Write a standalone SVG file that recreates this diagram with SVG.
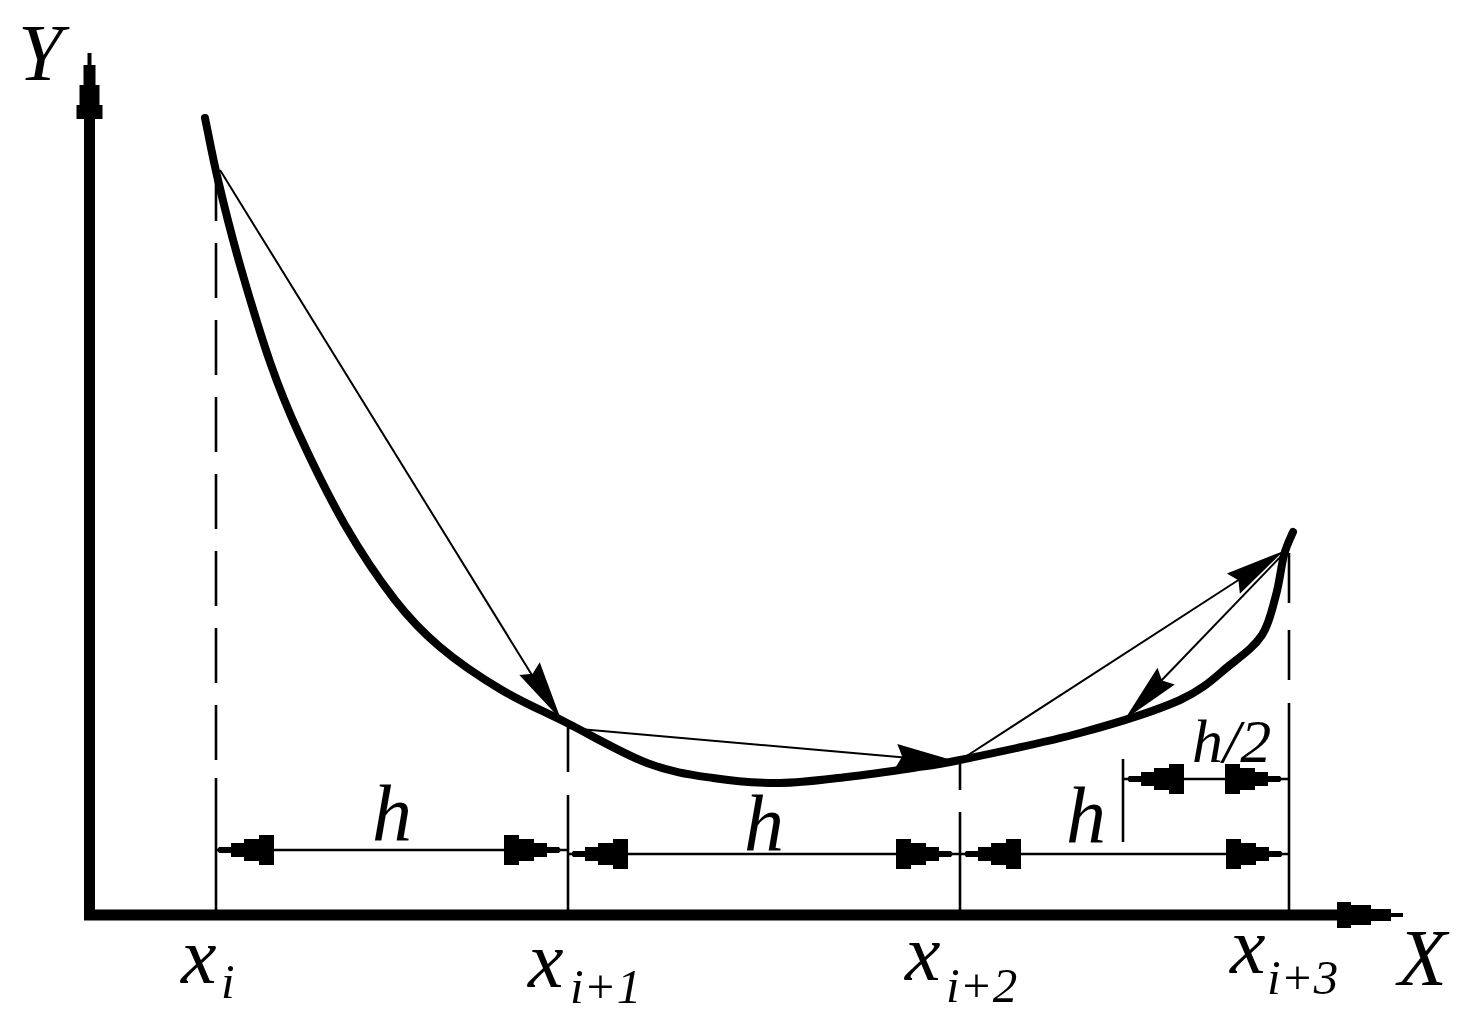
<svg xmlns="http://www.w3.org/2000/svg" xmlns:xlink="http://www.w3.org/1999/xlink" width="1479" height="1024" viewBox="0 0 1479 1024">
<style>
.lbl{font-family:"Liberation Serif","Times New Roman",serif;font-style:italic;fill:#000}
.big{font-size:80px}
.sub{font-size:49px}
.dash{stroke:#000;stroke-width:2.6;fill:none;stroke-dasharray:55 22}
.ext{stroke:#000;stroke-width:2.6;fill:none}
.dim{stroke:#000;stroke-width:2.4;fill:none}
.chord{stroke:#000;stroke-width:2;fill:none}
.axis{stroke:#000;stroke-width:11;fill:none}
.curve{stroke:#000;stroke-width:8;fill:none;stroke-linecap:round;stroke-linejoin:round}
</style>
<defs>
<path id="ah" d="M2,0 L0,-3 L-12,-3 L-12,-7 L-25,-7 L-25,-11 L-40,-11 L-40,-15 L-55,-15 L-55,15 L-40,15 L-40,11 L-25,11 L-25,7 L-12,7 L-12,3 L0,3 Z" fill="#000"/>
<path id="ch" d="M2,0 L-58,-12 L-52,0 L-58,12 Z" fill="#000"/>
<path id="axh" d="M0,-2 L-12,-2 L-12,-6 L-32,-6 L-32,-10 L-52,-10 L-52,-13 L-66,-13 L-66,13 L-52,13 L-52,10 L-32,10 L-32,6 L-12,6 L-12,2 L0,2 Z" fill="#000"/>
</defs>

<g id="axes">
<line class="axis" x1="89.5" y1="920" x2="89.5" y2="70"/>
<use xlink:href="#axh" transform="translate(89.5,53) rotate(-90)"/>
<line class="axis" x1="84" y1="915" x2="1390" y2="915"/>
<use xlink:href="#axh" transform="translate(1403,915)"/>
</g>

<g id="curve">
<path class="curve" d="M205,118 C207.2,128.3 212.2,155.5 218,180 C223.8,204.5 231.3,234.7 240,265 C248.7,295.3 260.2,333.8 270,362 C279.8,390.2 286.5,406.8 299,434 C311.5,461.2 329,497.3 345,525 C361,552.7 379.2,579.7 395,600 C410.8,620.3 422.5,632.2 440,647 C457.5,661.8 478.8,676.3 500,689 C521.2,701.7 542.5,710.7 567,723 C591.5,735.3 622.7,753.8 647,763 C671.3,772.2 690.8,774.7 713,778 C735.2,781.3 757.7,783.2 780,783 C802.3,782.8 824.8,779.5 847,777 C869.2,774.5 894.2,770.8 913,768 C931.8,765.2 932.2,765.8 960,760 C987.8,754.2 1043.3,743 1080,733 C1116.7,723 1155,711.3 1180,700 C1205,688.7 1216.3,675.8 1230,665 C1243.7,654.2 1254.3,646.7 1262,635 C1269.7,623.3 1272.3,608.3 1276,595 C1279.7,581.7 1281.2,565.5 1284,555 C1286.8,544.5 1291.5,535.8 1293,532"/>
</g>

<g id="verticals">
<line class="dash" x1="216" y1="166" x2="216" y2="762"/>
<line class="ext" x1="216" y1="778" x2="216" y2="912"/>
<line class="ext" x1="568" y1="727" x2="568" y2="772"/>
<line class="ext" x1="568" y1="795" x2="568" y2="912"/>
<line class="ext" x1="960" y1="760" x2="960" y2="790"/>
<line class="ext" x1="960" y1="812" x2="960" y2="912"/>
<line class="ext" x1="1289" y1="553" x2="1289" y2="603"/>
<line class="ext" x1="1289" y1="630" x2="1289" y2="680"/>
<line class="ext" x1="1289" y1="703" x2="1289" y2="912"/>
<line class="ext" x1="1123" y1="759" x2="1123" y2="842"/>
</g>

<g id="connectors">
<line class="chord" x1="220" y1="170" x2="535" y2="680"/>
<use xlink:href="#ch" transform="translate(560,718) rotate(58.3)"/>
<line class="chord" x1="568" y1="728" x2="910" y2="758"/>
<use xlink:href="#ch" transform="translate(954,761) rotate(5)"/>
<line class="chord" x1="962" y1="759" x2="1240" y2="579"/>
<use xlink:href="#ch" transform="translate(1282,552) rotate(-33)"/>
<line class="chord" x1="1287" y1="550" x2="1160" y2="682"/>
<use xlink:href="#ch" transform="translate(1126,718) rotate(133.8)"/>
</g>

<g id="dimensions">
<line class="dim" x1="216" y1="850" x2="568" y2="850"/>
<use xlink:href="#ah" transform="translate(219,850) rotate(180)"/>
<use xlink:href="#ah" transform="translate(559,850)"/>
<line class="dim" x1="568" y1="854" x2="960" y2="854"/>
<use xlink:href="#ah" transform="translate(573,854) rotate(180)"/>
<use xlink:href="#ah" transform="translate(951,854)"/>
<line class="dim" x1="960" y1="854" x2="1289" y2="854"/>
<use xlink:href="#ah" transform="translate(966,854) rotate(180)"/>
<use xlink:href="#ah" transform="translate(1281,854)"/>
<line class="dim" x1="1123" y1="779" x2="1289" y2="779"/>
<use xlink:href="#ah" transform="translate(1129,779) rotate(180)"/>
<use xlink:href="#ah" transform="translate(1280,779)"/>
</g>

<g id="labels">
<text class="lbl big" x="18" y="80">Y</text>
<text class="lbl big" x="1398" y="985">X</text>
<text class="lbl big" x="372" y="840">h</text>
<text class="lbl big" x="744" y="850">h</text>
<text class="lbl big" x="1066" y="842">h</text>
<text class="lbl" style="font-size:62px" x="1192" y="762">h/2</text>
<text class="lbl big" x="181" y="983">x</text>
<text class="lbl sub" x="221" y="998">i</text>
<text class="lbl big" x="528" y="987">x</text>
<text class="lbl sub" x="570" y="1003">i+1</text>
<text class="lbl big" x="905" y="980">x</text>
<text class="lbl sub" x="946" y="1002">i+2</text>
<text class="lbl big" x="1230" y="973">x</text>
<text class="lbl sub" x="1267" y="994">i+3</text>
</g>
</svg>
